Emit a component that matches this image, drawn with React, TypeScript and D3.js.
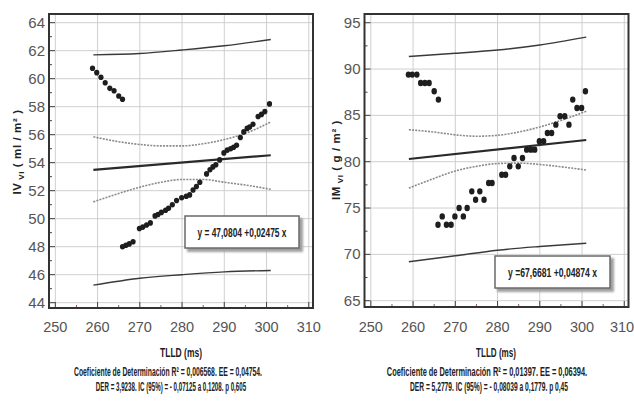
import React, { useLayoutEffect, useRef, useState } from "react";
import * as d3 from "d3";

// ---------- data ----------
const xTicks = [250, 260, 270, 280, 290, 300, 310];
const xMinorTicks = [255, 265, 275, 285, 295, 305];
const ivTicks = [44, 46, 48, 50, 52, 54, 56, 58, 60, 62, 64];
const ivMinorTicks = [45, 47, 49, 51, 53, 55, 57, 59, 61, 63];
const imTicks = [65, 70, 75, 80, 85, 90, 95];
const imMinorTicks = [67.5, 72.5, 77.5, 82.5, 87.5, 92.5];

type P = [number, number];

const ivPoints: P[] = [
  [258.8, 60.74], [259.8, 60.43], [260.8, 60.1], [261.8, 59.71], [262.9, 59.31],
  [263.9, 59.14], [265.0, 58.76], [265.9, 58.53],
  [265.9, 48.0], [266.7, 48.1], [267.5, 48.2], [268.4, 48.35], [269.9, 49.3],
  [270.7, 49.4], [271.6, 49.55], [272.5, 49.7], [273.6, 50.2], [274.3, 50.3],
  [275.1, 50.45], [276.1, 50.6], [276.8, 50.75], [277.7, 51.0], [278.7, 51.3],
  [279.9, 51.5], [281.0, 51.6], [281.8, 51.7], [282.6, 52.05], [283.4, 52.3],
  [284.2, 52.6], [285.8, 53.2], [286.6, 53.5], [287.3, 53.7], [288.0, 53.85],
  [288.9, 54.2], [289.9, 54.7], [290.7, 54.9], [291.5, 55.0], [292.2, 55.1],
  [292.9, 55.25], [293.8, 55.8], [294.6, 56.2], [295.4, 56.45], [296.0, 56.55],
  [296.8, 56.75], [298.0, 57.3], [298.8, 57.45], [299.6, 57.65], [300.7, 58.2],
];
const ivFit: P[] = [[259, 53.49], [301, 54.53]];
const ivCiUpper: P[] = [[259, 55.85], [265, 55.5], [270, 55.3], [275, 55.2], [280, 55.2], [285, 55.35], [290, 55.65], [295, 56.1], [301, 56.9]];
const ivCiLower: P[] = [[259, 51.2], [265, 51.8], [270, 52.25], [275, 52.6], [280, 52.8], [285, 52.8], [290, 52.6], [295, 52.4], [301, 52.1]];
const ivPiUpper: P[] = [[259, 61.7], [270, 61.8], [280, 62.05], [290, 62.35], [301, 62.8]];
const ivPiLower: P[] = [[259, 45.25], [270, 45.75], [280, 46.0], [290, 46.2], [301, 46.3]];

const imPoints: P[] = [
  [258.9, 89.4], [259.8, 89.4], [260.9, 89.4], [261.8, 88.5], [262.8, 88.5],
  [263.8, 88.5], [265.0, 87.6], [266.0, 86.7],
  [265.9, 73.2], [266.9, 74.1], [267.9, 73.2], [269.0, 73.2], [269.9, 74.1],
  [270.9, 75.0], [271.9, 74.1], [272.8, 75.0], [273.9, 76.8], [274.8, 75.9],
  [275.8, 76.8], [276.8, 75.9], [277.9, 77.7], [278.7, 77.7], [281.0, 78.6],
  [281.9, 78.6], [282.9, 79.5], [283.9, 80.4], [284.9, 79.5], [285.9, 80.4],
  [286.9, 81.3], [287.9, 81.3], [288.8, 81.3], [289.9, 82.2], [290.9, 82.2],
  [291.8, 83.1], [292.8, 83.1], [293.8, 84.0], [294.8, 84.9], [295.9, 84.9],
  [296.9, 84.0], [297.8, 86.7], [298.8, 85.8], [299.9, 85.8], [300.8, 87.6],
];
const imFit: P[] = [[259, 80.29], [301, 82.34]];
const imCiUpper: P[] = [[259, 83.45], [265, 83.2], [270, 82.9], [275, 82.75], [280, 82.85], [285, 83.2], [290, 83.75], [295, 84.45], [301, 85.45]];
const imCiLower: P[] = [[259, 77.15], [265, 78.2], [270, 79.0], [275, 79.5], [280, 79.8], [285, 79.85], [290, 79.7], [295, 79.45], [301, 79.1]];
const imPiUpper: P[] = [[259, 91.35], [270, 91.7], [280, 92.05], [290, 92.6], [301, 93.45]];
const imPiLower: P[] = [[259, 69.2], [270, 69.85], [280, 70.45], [290, 70.85], [301, 71.2]];

const ivEquation = "y = 47,0804 +0,02475 x";
const imEquation = "y =67,6681 +0,04874 x";
const xTitle = "TLLD (ms)";
const ivCaption = [
  "Coeficiente de Determinación R² = 0,006568.  EE = 0,04754.",
  "DER = 3,9238.  IC (95%) = - 0,07125 a 0,1208.   p   0,605",
];
const imCaption = [
  "Coeficiente de Determinación R² = 0,01397.  EE = 0,06394.",
  "DER = 5,2779.  IC (95%) = - 0,08039 a 0,1779.   p   0,45",
];

const NARROW = "'Liberation Sans Narrow', 'Arial Narrow', 'Liberation Sans', Arial, sans-serif";

// text squeezed horizontally to a target width (measured, then scaled)
function CText({ cx, y, w, size, children }: { cx: number; y: number; w: number; size: number; children: string }) {
  const ref = useRef<SVGTextElement>(null);
  const [s, setS] = useState(0.7);
  useLayoutEffect(() => {
    if (ref.current) {
      const n = ref.current.getComputedTextLength();
      if (n > 0) setS(w / n);
    }
  }, [w, children]);
  return (
    <g transform={`translate(${cx},${y}) scale(${s},1)`}>
      <text ref={ref} x={0} y={0} textAnchor="middle" fontFamily={NARROW} fontWeight="bold" fontSize={size} fill="#222">
        {children}
      </text>
    </g>
  );
}

interface PanelCfg {
  left: number; right: number; top: number; bottom: number;
  xDomain: [number, number]; yDomain: [number, number];
  yTicks: number[]; yMinor: number[];
  points: P[]; fit: P[]; ciU: P[]; ciL: P[]; piU: P[]; piL: P[];
  rx: number; ry: number;
  box: { x: number; y: number; w: number; h: number };
  equation: string; eqWidth: number;
  yLabelMain: string; yLabelUnit: string; yLabelX: number; yLabelY: number;
  titleX: number; titleW: number;
  caption: string[]; capX: number[]; capW: number[];
}

function Panel({ c }: { c: PanelCfg }) {
  const x = d3.scaleLinear().domain(c.xDomain).range([c.left, c.right]);
  const y = d3.scaleLinear().domain(c.yDomain).range([c.bottom, c.top]);
  const curve = d3.line<P>().x((d) => x(d[0])).y((d) => y(d[1])).curve(d3.curveMonotoneX);
  const straight = d3.line<P>().x((d) => x(d[0])).y((d) => y(d[1]));
  const gridColor = "#cfcfcf";
  return (
    <g>
      {/* grid */}
      {xTicks.map((t) => (
        <line key={"gx" + t} x1={x(t)} x2={x(t)} y1={c.top} y2={c.bottom} stroke={gridColor} strokeWidth={1} />
      ))}
      {c.yTicks.map((t) => (
        <line key={"gy" + t} x1={c.left} x2={c.right} y1={y(t)} y2={y(t)} stroke={gridColor} strokeWidth={1} />
      ))}
      {/* ticks */}
      {c.yTicks.map((t) => (
        <line key={"ty" + t} x1={c.left} x2={c.left + 6} y1={y(t)} y2={y(t)} stroke="#444" strokeWidth={1} />
      ))}
      {c.yMinor.map((t) => (
        <line key={"tym" + t} x1={c.left} x2={c.left + 3} y1={y(t)} y2={y(t)} stroke="#444" strokeWidth={1} />
      ))}
      {xTicks.map((t) => (
        <line key={"tx" + t} x1={x(t)} x2={x(t)} y1={c.bottom} y2={c.bottom - 6} stroke="#444" strokeWidth={1} />
      ))}
      {xMinorTicks.map((t) => (
        <line key={"txm" + t} x1={x(t)} x2={x(t)} y1={c.bottom} y2={c.bottom - 3} stroke="#8a5a5a" strokeWidth={1} />
      ))}
      {/* bands */}
      <path d={curve(c.piU) || ""} fill="none" stroke="#3a3a3a" strokeWidth={1.4} />
      <path d={curve(c.piL) || ""} fill="none" stroke="#3a3a3a" strokeWidth={1.4} />
      <path d={curve(c.ciU) || ""} fill="none" stroke="#8a8a8a" strokeWidth={1.6} strokeDasharray="2,1.2" />
      <path d={curve(c.ciL) || ""} fill="none" stroke="#8a8a8a" strokeWidth={1.6} strokeDasharray="2,1.2" />
      <path d={straight(c.fit) || ""} fill="none" stroke="#2a2a2a" strokeWidth={2.2} />
      {/* points */}
      {c.points.map((p, i) => (
        <ellipse key={"p" + i} cx={x(p[0])} cy={y(p[1])} rx={c.rx} ry={c.ry} fill="#1e1e1e" />
      ))}
      {/* frame */}
      <rect x={c.left} y={c.top} width={c.right - c.left} height={c.bottom - c.top} fill="none" stroke="#333" strokeWidth={2} />
      {/* equation box */}
      <rect x={c.box.x + 2} y={c.box.y + 2} width={c.box.w + 2} height={c.box.h + 2} fill="#a0a0a0" filter="url(#blur)" />
      <rect x={c.box.x} y={c.box.y} width={c.box.w} height={c.box.h} fill="#fff" stroke="#6a6a6a" strokeWidth={1.5} />
      <CText cx={c.box.x + c.box.w / 2} y={c.box.y + c.box.h / 2 + 4.5} w={c.eqWidth} size={12}>
        {c.equation}
      </CText>
      {/* tick labels */}
      {c.yTicks.map((t) => (
        <text key={"ly" + t} x={c.left - 4} y={y(t) + 5} textAnchor="end" fontFamily={NARROW} fontSize={15} fill="#555">
          {t}
        </text>
      ))}
      {xTicks.map((t) => (
        <text key={"lx" + t} x={Math.min(x(t), 622)} y={332} textAnchor="middle" fontFamily={NARROW} fontSize={14.5} fill="#555">
          {t}
        </text>
      ))}
      {/* axis titles */}
      <text transform={`translate(${c.yLabelX},${c.yLabelY}) rotate(-90)`} textAnchor="middle" fontFamily={NARROW}
        fontWeight="bold" fontSize={11.5} fill="#222" letterSpacing={0.6}>
        {c.yLabelMain}
        <tspan fontSize={8} dy={3}>{" VI"}</tspan>
        <tspan dy={-3}>{"   " + c.yLabelUnit}</tspan>
      </text>
      <CText cx={c.titleX} y={357} w={c.titleW} size={13}>
        {xTitle}
      </CText>
      {c.caption.map((s, i) => (
        <CText key={"cap" + i} cx={c.capX[i]} y={376 + i * 15} w={c.capW[i]} size={12.5}>
          {s}
        </CText>
      ))}
    </g>
  );
}

const leftCfg: PanelCfg = {
  left: 49, right: 313, top: 14, bottom: 308,
  xDomain: [248.5, 311], yDomain: [43.62, 64.62],
  yTicks: ivTicks, yMinor: ivMinorTicks,
  points: ivPoints, fit: ivFit, ciU: ivCiUpper, ciL: ivCiLower, piU: ivPiUpper, piL: ivPiLower,
  rx: 2.6, ry: 2.8,
  box: { x: 185, y: 216, w: 114, h: 32 },
  equation: ivEquation, eqWidth: 89,
  yLabelMain: "IV", yLabelUnit: "( ml / m² )", yLabelX: 21, yLabelY: 152,
  titleX: 181, titleW: 42,
  caption: ivCaption, capX: [168, 171], capW: [188, 150],
};

const rightCfg: PanelCfg = {
  left: 364.5, right: 628.5, top: 14, bottom: 307,
  xDomain: [248.5, 311], yDomain: [64.32, 95.94],
  yTicks: imTicks, yMinor: imMinorTicks,
  points: imPoints, fit: imFit, ciU: imCiUpper, ciL: imCiLower, piU: imPiUpper, piL: imPiLower,
  rx: 2.7, ry: 3.2,
  box: { x: 495, y: 256, w: 115, h: 32 },
  equation: imEquation, eqWidth: 89,
  yLabelMain: "IM", yLabelUnit: "( g / m² )", yLabelX: 340, yLabelY: 160,
  titleX: 496, titleW: 40,
  caption: imCaption, capX: [487, 489], capW: [200, 158],
};

export default function App() {
  return (
    <svg width={634} height={404} style={{ position: "absolute", left: 0, top: 0, background: "#fff" }}>
      <defs>
        <filter id="blur" x="-10%" y="-20%" width="130%" height="150%">
          <feGaussianBlur stdDeviation="1.2" />
        </filter>
      </defs>
      <rect x={0} y={0} width={634} height={404} fill="#fff" />
      <Panel c={leftCfg} />
      <Panel c={rightCfg} />
    </svg>
  );
}
